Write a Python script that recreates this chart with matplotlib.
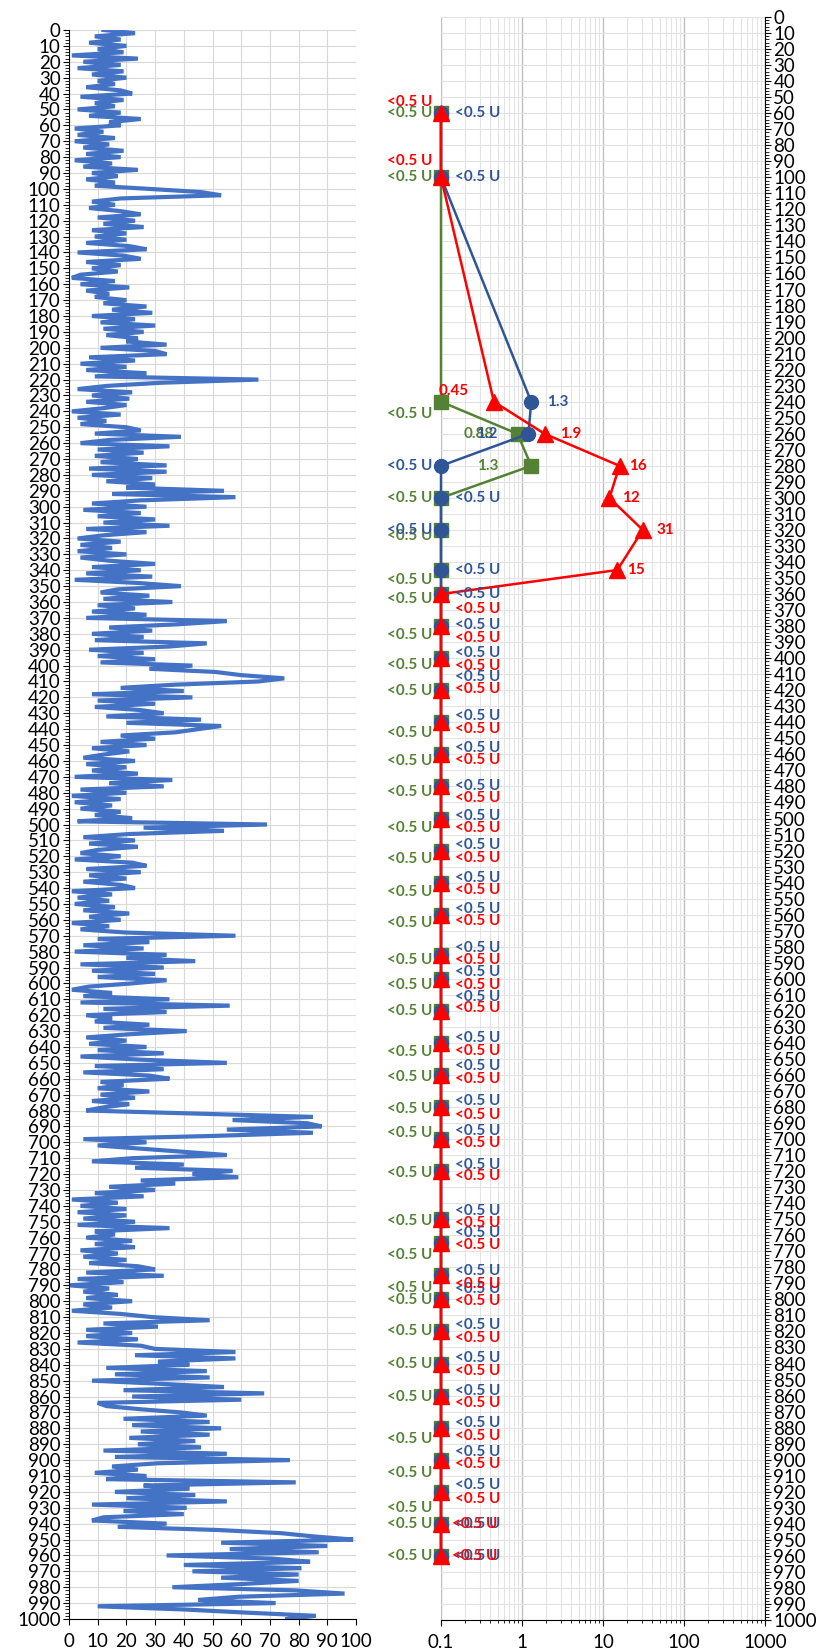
import matplotlib
matplotlib.use("Agg")
import matplotlib.pyplot as plt
from matplotlib.ticker import MultipleLocator, LogLocator, FuncFormatter, NullFormatter

plt.rcParams['font.family'] = ['Lato', 'DejaVu Sans']

# ---------------- left track: continuous log, sampled every 2 depth units ----------------
log_depth = list(range(0, 1001, 2))
log_value = [
    12, 23, 9, 18, 7, 20, 10, 19, 1, 24,
    5, 18, 3, 19, 8, 20, 10, 16, 6, 18,
    22, 4, 19, 9, 16, 3, 18, 7, 25, 14,
    18, 2, 12, 3, 16, 2, 14, 5, 19, 6,
    18, 2, 15, 5, 24, 8, 17, 6, 16, 9,
    28, 46, 53, 18, 8, 16, 7, 18, 25, 10,
    23, 12, 26, 8, 20, 9, 20, 6, 21, 27,
    3, 19, 25, 6, 18, 8, 17, 4, 1, 16,
    4, 21, 6, 14, 9, 20, 12, 27, 15, 29,
    8, 23, 11, 30, 12, 26, 13, 24, 20, 34,
    11, 30, 34, 7, 23, 4, 20, 6, 27, 9,
    66, 32, 13, 3, 22, 8, 21, 6, 20, 12,
    1, 18, 3, 13, 4, 20, 25, 9, 39, 14,
    4, 35, 10, 26, 9, 24, 11, 34, 7, 34,
    8, 29, 13, 30, 20, 54, 15, 58, 25, 8,
    27, 5, 25, 10, 30, 12, 35, 6, 27, 12,
    3, 18, 4, 15, 3, 20, 4, 14, 30, 8,
    25, 6, 29, 2, 24, 39, 17, 11, 28, 12,
    36, 10, 23, 8, 27, 6, 55, 38, 14, 29,
    8, 26, 9, 48, 35, 7, 26, 10, 30, 11,
    43, 28, 51, 60, 75, 66, 37, 18, 40, 8,
    43, 10, 30, 9, 25, 33, 13, 46, 20, 53,
    45, 37, 18, 30, 11, 27, 8, 21, 12, 5,
    23, 6, 20, 8, 24, 2, 36, 14, 33, 4,
    20, 1, 18, 2, 15, 4, 18, 9, 22, 3,
    69, 26, 54, 21, 5, 23, 7, 24, 10, 4,
    18, 2, 22, 27, 6, 25, 7, 20, 5, 18,
    23, 1, 15, 3, 14, 2, 16, 5, 21, 7,
    18, 1, 14, 4, 20, 58, 10, 28, 5, 26,
    2, 34, 20, 44, 4, 33, 8, 30, 10, 34,
    22, 7, 1, 15, 5, 35, 4, 56, 12, 34,
    6, 15, 9, 28, 12, 41, 21, 6, 20, 7,
    27, 10, 33, 4, 25, 55, 9, 33, 5, 28,
    35, 11, 19, 10, 28, 11, 23, 8, 21, 12,
    6, 45, 85, 57, 83, 88, 55, 85, 50, 5,
    27, 10, 25, 40, 55, 22, 8, 40, 23, 57,
    43, 59, 25, 37, 14, 30, 9, 26, 1, 17,
    4, 20, 3, 20, 5, 23, 3, 35, 9, 16,
    6, 22, 9, 23, 4, 17, 5, 20, 7, 24,
    30, 6, 33, 3, 19, 0, 14, 5, 17, 6,
    22, 5, 15, 1, 18, 29, 49, 12, 31, 6,
    22, 6, 24, 3, 25, 30, 58, 23, 58, 31,
    42, 13, 48, 16, 49, 8, 32, 54, 19, 68,
    22, 60, 10, 13, 25, 39, 48, 19, 49, 22,
    53, 25, 49, 21, 44, 24, 46, 12, 55, 16,
    77, 31, 15, 24, 9, 27, 13, 79, 26, 42,
    16, 44, 20, 55, 8, 41, 19, 40, 12, 8,
    34, 17, 52, 74, 85, 99, 53, 90, 56, 87,
    34, 71, 84, 40, 81, 43, 80, 53, 80, 60,
    36, 79, 96, 59, 45, 72, 10, 40, 62, 86,
    76,
]

# ---------------- right track: lab samples ----------------
sample_depth = [60, 100, 240, 260, 280, 300, 320, 345, 360, 380,
                400, 420, 440, 460, 480, 500, 520, 540, 560, 585,
                600, 620, 640, 660, 680, 700, 720, 750, 765, 785,
                800, 820, 840, 860, 880, 900, 920, 940, 960]
ND = "<0.5 U"
blue_result = [ND, ND, "1.3", "1.2"] + [ND] * 35
green_result = [ND, ND, ND, "0.88", "1.3"] + [ND] * 34
red_result = [ND, ND, "0.45", "1.9", "16", "12", "31", "15"] + [ND] * 31
ND_PLOT = 0.1  # non-detects are drawn on the left edge

# label nudges in pixels (+ = down)
blue_dy = [0, 0, 0, 0, 0, 0, 0, 0, 0, -1,
           -5, -13, -6, -6, 0, -3, -6, -5, -6, -7,
           -7, -14, -5, -9, -6, -8, -6, -8, -10, -4,
           -10, -6, -6, -5, -5, -8, -7, 0, 0]
green_dy = [0, 0, 12, 0, 0, 0, 6, 10, 5, 9,
            7, 1, 11, 7, 6, 10, 8, 9, 8, 5,
            6, 0, 9, 2, 2, -6, 2, 2, 12, 13,
            1, 0, 0, 1, 11, 13, 16, 0, 0]
red_dy = [-11, -16, -11, 0, 0, 0, 0, 0, 15, 12,
          8, -1, 7, 6, 12, 9, 7, 7, 6, 5,
          6, -3, 8, 4, 8, 4, 5, 4, 2, 9,
          2, 7, 7, 7, 8, 4, 7, 0, 0]

# horizontal placement overrides: depth -> (dx pixels, ha)
blue_dx = {260: (-31, 'right'), 280: (-9, 'right'), 320: (-9, 'right'), 240: (16, 'left')}
green_dx = {260: (-24, 'right'), 280: (-33, 'right')}
red_dx = {60: (-9, 'right'), 100: (-9, 'right'), 240: (-25, 'right'), 260: (15, 'left'),
          280: (10, 'left'), 300: (13, 'left'), 320: (14, 'left'), 345: (10, 'left'),
          940: (11, 'left'), 960: (11, 'left')}

BLUE = '#2F5597'
GREEN = '#548235'
RED = '#FF0000'


def to_x(r):
    return ND_PLOT if r.startswith("<") else float(r)


def put_labels(ax, results, dys, dxs, default, color):
    for d, r, dy in zip(sample_depth, results, dys):
        dx, ha = dxs.get(d, default)
        ax.annotate(r, (to_x(r), d), xytext=(dx, -dy), textcoords='offset pixels',
                    ha=ha, va='center', color=color, fontsize=11, fontweight='bold',
                    annotation_clip=False, zorder=10)


fig = plt.figure(figsize=(8.24, 16.5), dpi=100)

# ---- left panel
ax1 = fig.add_axes([69 / 824, 31 / 1650, 287 / 824, 1589 / 1650])
ax1.plot(log_value, log_depth, color='#4472C4', lw=3.0, solid_joinstyle='miter')
ax1.set_xlim(0, 100)
ax1.set_ylim(1000, 0)
ax1.xaxis.set_major_locator(MultipleLocator(10))
ax1.yaxis.set_major_locator(MultipleLocator(10))
ax1.yaxis.set_minor_locator(MultipleLocator(2))
ax1.grid(True, which='major', color='#D9D9D9', lw=0.8)
ax1.set_axisbelow(True)
for s in ['top', 'right']:
    ax1.spines[s].set_visible(False)
ax1.tick_params(axis='both', which='major', labelsize=13.5, length=4, pad=2, colors='black')
ax1.tick_params(axis='x', pad=6)
ax1.tick_params(axis='y', which='minor', length=3)

# ---- right panel
ax2 = fig.add_axes([441 / 824, 30 / 1650, 324 / 824, 1603 / 1650])
ax2.set_xscale('log')
ax2.set_xlim(0.1, 1000)
ax2.set_ylim(1000, 0)

ax2.plot([to_x(r) for r in green_result], sample_depth, color=GREEN, lw=1.8,
         marker='s', ms=10, clip_on=False, zorder=3)
ax2.plot([to_x(r) for r in blue_result], sample_depth, color=BLUE, lw=1.8,
         marker='o', ms=10, clip_on=False, zorder=4)
ax2.plot([to_x(r) for r in red_result], sample_depth, color=RED, lw=1.8,
         marker='^', ms=11, clip_on=False, zorder=5)

put_labels(ax2, green_result, green_dy, green_dx, (-9, 'right'), GREEN)
put_labels(ax2, blue_result, blue_dy, blue_dx, (14, 'left'), BLUE)
put_labels(ax2, red_result, red_dy, red_dx, (14, 'left'), RED)

ax2.xaxis.set_major_locator(LogLocator(base=10, numticks=10))
ax2.xaxis.set_minor_locator(LogLocator(base=10, subs=range(2, 10), numticks=20))
ax2.xaxis.set_major_formatter(FuncFormatter(lambda v, p: f"{v:g}"))
ax2.xaxis.set_minor_formatter(NullFormatter())
ax2.yaxis.set_major_locator(MultipleLocator(10))
ax2.yaxis.set_minor_locator(MultipleLocator(2))
ax2.yaxis.tick_right()
ax2.grid(True, axis='x', which='major', color='#BFBFBF', lw=1.0)
ax2.grid(True, axis='x', which='minor', color='#E3E3E3', lw=0.8)
ax2.grid(True, axis='y', which='major', color='#E3E3E3', lw=0.8)
ax2.set_axisbelow(True)
for s in ['top', 'left']:
    ax2.spines[s].set_visible(False)
ax2.tick_params(axis='both', which='major', labelsize=13.5, length=4, pad=2, colors='black')
ax2.tick_params(axis='x', pad=6)
ax2.tick_params(axis='x', which='minor', length=2)
ax2.tick_params(axis='y', which='minor', length=3)

fig.savefig("out.png", dpi=100)
